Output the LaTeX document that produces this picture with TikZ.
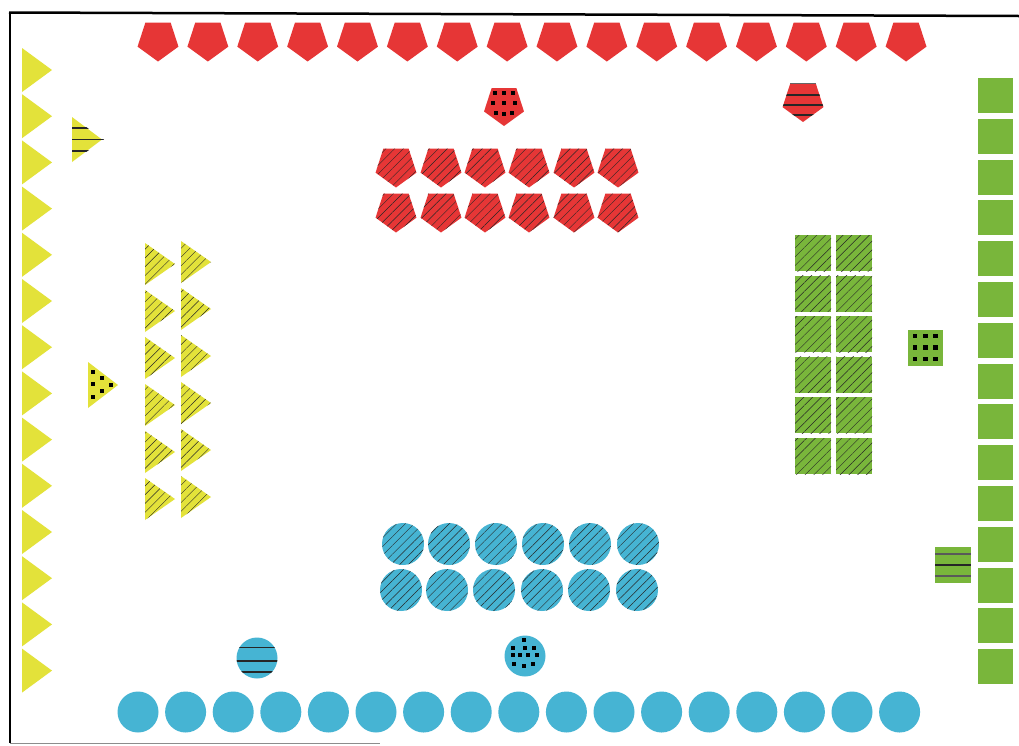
\documentclass[tikz,border=0pt]{standalone}
\usetikzlibrary{patterns.meta}
\definecolor{pred}{HTML}{E63636}
\definecolor{pyel}{HTML}{E3E23A}
\definecolor{pgrn}{HTML}{79B63B}
\definecolor{pblu}{HTML}{46B4D3}
\newcommand{\pentpath}[1]{(90:#1) -- (162:#1) -- (234:#1) -- (306:#1) -- (18:#1) -- cycle}
\tikzset{
  hatch/.style={postaction={pattern={Lines[angle=45,distance=6.2pt,line width=0.45pt]},pattern color=black!85}},
  dotsq/.style={fill=black},
  stripe/.style={line width=1.3pt,black!85},
}
\newcommand{\sqdot}[2]{\fill[dotsq] (#1-2.2,#2-2.2) rectangle (#1+2.2,#2+2.2);}
\begin{document}
\begin{tikzpicture}[x=1pt,y=-1pt]
\useasboundingbox (0,0) rectangle (1019,745);
\fill[white] (0,0) rectangle (1019,745);
% border
\draw[line width=2.5pt,black] (9,12.5) -- (1019,16);
\draw[line width=2.5pt,black] (10,12) -- (10,743);
\draw[line width=1pt,black!45] (10,743) -- (380,743);

% top red pentagons
\foreach \i in {0,...,15}{
  \fill[pred,shift={(158+49.87*\i,40)}] \pentpath{21.5};
}
% dotted pentagon
\fill[pred,shift={(504,105)}] \pentpath{21};
\foreach \x/\y in {495/93,504/93,513/93,493/103,504/103,515/103,496/113,504/114,512/113}{\sqdot{\x}{\y}}
% lined pentagon
\begin{scope}[shift={(803,100.5)}]
  \fill[pred] \pentpath{21.5};
  \clip \pentpath{21.5};
  \foreach \y in {-5.5,4.5,14.5}{\draw[stripe] (-25,\y) -- (25,\y);}
  \draw[line width=1.5pt,black!60] (-25,-17) -- (25,-17);
\end{scope}
% hatched pentagons
\foreach \x in {396,441,485,529,574,618}{
  \fill[pred,hatch,shift={(\x,166)}] \pentpath{21.5};
  \fill[pred,hatch,shift={(\x,211)}] \pentpath{21.5};
}

% left yellow triangles
\foreach \i in {0,...,13}{
  \fill[pyel] (22,48+46.2*\i) -- (52,70+46.2*\i) -- (22,92+46.2*\i) -- cycle;
}
% lined small triangle
\begin{scope}
  \fill[pyel] (72,117) -- (102,139.5) -- (72,162) -- cycle;
  \clip (72,117) -- (104,139.5) -- (72,162) -- cycle;
  \foreach \y in {128,139.5,151}{\draw[stripe] (70,\y) -- (106,\y);}
\end{scope}
% dotted triangle
\fill[pyel] (88,362) -- (118,385) -- (88,408) -- cycle;
\foreach \x/\y in {93/372,93/384,93/397,102/378,102/391,111/385}{\sqdot{\x}{\y}}
% hatched triangles
\foreach \i in {0,...,5}{
  \fill[pyel,hatch] (145,243+47*\i) -- (175,264+47*\i) -- (145,285+47*\i) -- cycle;
  \fill[pyel,hatch] (181,241+47*\i) -- (211,262+47*\i) -- (181,283+47*\i) -- cycle;
}

% right green squares
\foreach \i in {0,...,14}{
  \fill[pgrn] (978,78+40.8*\i) rectangle (1013,113+40.8*\i);
}
% hatched green squares
\foreach \i in {0,...,5}{
  \fill[pgrn,hatch] (795,235+40.6*\i) rectangle (831,271+40.6*\i);
  \fill[pgrn,hatch] (836,235+40.6*\i) rectangle (872,271+40.6*\i);
}
% dotted green square
\fill[pgrn] (908,330) rectangle (943,366);
\foreach \x in {915,925.5,935.5}{\foreach \y in {336,347.5,359}{\sqdot{\x}{\y}}}
% lined green square
\fill[pgrn] (935,547) rectangle (971,583);
\draw[stripe,black!65] (935,554) -- (971,554);
\draw[stripe] (935,565) -- (971,565);
\draw[stripe,black!65] (935,576) -- (971,576);

% bottom blue circles
\foreach \i in {0,...,16}{
  \fill[pblu] (138+47.6*\i,712) circle (20.5);
}
% hatched blue circles
\foreach \x in {403,449,496,543,590,638}{\fill[pblu,hatch] (\x,544) circle (21);}
\foreach \x in {401,447,494,542,589,637}{\fill[pblu,hatch] (\x,590) circle (21);}
% lined circle
\begin{scope}
  \fill[pblu] (257,658) circle (20.5);
  \clip (257,658) circle (20.5);
  \foreach \y in {647.5,661,672}{\draw[stripe] (230,\y) -- (285,\y);}
\end{scope}
% dotted circle
\fill[pblu] (525,656) circle (20.5);
\foreach \x/\y in {524/640,513/648,525/648,534/648,513/655,520/655,528/655,537/655,514/664,524/666,533/664}{\sqdot{\x}{\y}}
\end{tikzpicture}
\end{document}
